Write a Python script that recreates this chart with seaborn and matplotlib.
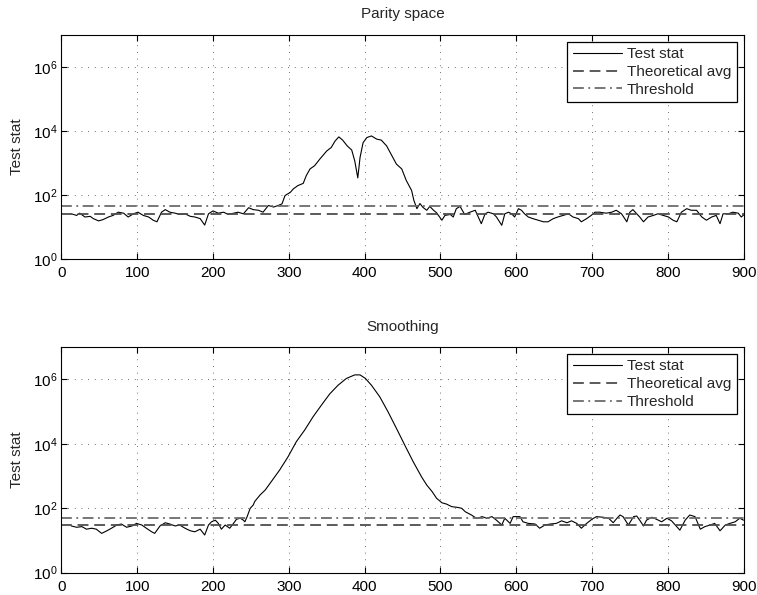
import numpy as np
import pandas as pd
import matplotlib
matplotlib.use("Agg")
import matplotlib.pyplot as plt
import seaborn as sns
from matplotlib.ticker import FixedLocator, LogFormatterSciNotation, NullLocator

# ---------------- data ----------------
titles = ["Parity space", "Smoothing"]
legend_labels = ["Test stat", "Theoretical avg", "Threshold"]
x_ticks = [0, 100, 200, 300, 400, 500, 600, 700, 800, 900]
y_ticks = [1e0, 1e2, 1e4, 1e6]

parity_x = [13, 20, 24, 31, 38, 42, 49, 55, 62, 68,
            75, 82, 88, 95, 101, 108, 115, 121, 126, 132,
            137, 143, 150, 156, 163, 170, 176, 183, 189, 194,
            200, 207, 214, 220, 227, 233, 240, 247, 253, 260,
            266, 273, 280, 286, 291, 295, 302, 306, 312, 319,
            323, 328, 334, 341, 350, 356, 361, 366, 371, 377,
            383, 387, 391, 394, 398, 403, 409, 416, 422, 429,
            436, 442, 449, 455, 462, 465, 469, 473, 477, 482,
            486, 491, 495, 502, 506, 513, 517, 521, 526, 532,
            539, 546, 550, 554, 559, 563, 570, 574, 581, 585,
            590, 594, 598, 603, 607, 611, 616, 622, 629, 636,
            642, 649, 655, 662, 669, 675, 682, 686, 693, 699,
            704, 710, 719, 726, 732, 739, 746, 750, 754, 759,
            763, 768, 774, 781, 787, 794, 801, 807, 812, 818,
            825, 831, 838, 845, 851, 858, 864, 869, 873, 880,
            886, 893, 897, 900]
parity_stat = [26.3, 23.4, 27.5, 20.9, 21.9, 18.6, 15.8, 17.4, 20.9, 23.4,
               29.5, 27.5, 20.9, 26.3, 29.5, 23.4, 20.9, 16.6, 14.8, 29.5,
               35.5, 29.5, 27.5, 25.1, 26.3, 21.9, 20.9, 18.6, 11.7, 26.3,
               32.4, 27.5, 29.5, 25.1, 27.5, 29.5, 26.3, 40.7, 35.5, 33.9,
               29.5, 47.9, 42.7, 47.9, 53.7, 97.7, 123, 158, 200, 234,
               407, 661, 832, 1349, 2399, 3090, 4898, 6607, 5248, 3467,
               2570, 1175, 347, 1514, 4365, 6310, 7079, 5623, 5248, 3467,
               1698, 933, 661, 288, 141, 69.2, 38, 55, 41.7, 33.9,
               44.7, 33.9, 28.2, 16.6, 23.4, 25.1, 20.9, 38, 44.7, 25.1,
               29.5, 33.9, 20.9, 12.9, 26.3, 29.5, 26.3, 20.9, 11.5, 26.3,
               29.5, 26.3, 20.9, 38, 33.9, 26.3, 20.9, 18.6, 16.6, 14.8,
               14.8, 18.6, 20.9, 23.4, 26.3, 20.9, 18.6, 14.8, 18.6, 23.4,
               29.5, 29.5, 27.5, 29.5, 33.9, 26.3, 14.8, 29.5, 35.5, 26.3,
               20.9, 14.8, 20.9, 23.4, 26.3, 23.4, 20.9, 16.6, 14.8, 29.5,
               38, 33.9, 33.9, 20.9, 16.6, 20.9, 23.4, 12.9, 26.3, 26.3,
               29.5, 27.5, 20.9, 24]
parity_avg = 26
parity_threshold = 46

smooth_x = [13, 20, 27, 33, 40, 46, 53, 60, 66, 73,
            79, 86, 93, 99, 106, 112, 119, 123, 130, 137,
            143, 150, 156, 163, 170, 176, 183, 189, 194, 198,
            203, 207, 211, 216, 222, 227, 231, 236, 240, 242,
            245, 249, 253, 255, 262, 269, 277, 288, 299, 310,
            321, 332, 343, 354, 365, 376, 387, 394, 401, 409,
            420, 431, 442, 453, 464, 475, 482, 489, 495, 502,
            508, 515, 522, 528, 533, 537, 541, 548, 555, 561,
            568, 574, 581, 585, 592, 596, 605, 609, 616, 625,
            631, 638, 645, 653, 660, 667, 673, 680, 686, 693,
            700, 706, 715, 722, 728, 733, 737, 741, 748, 755,
            759, 763, 768, 772, 779, 785, 792, 799, 805, 810,
            816, 823, 829, 836, 843, 849, 856, 862, 869, 876,
            882, 889, 895, 900]
smooth_stat = [28.2, 25.7, 26.9, 22.4, 24, 22.4, 16.6, 20, 24, 30.2,
               32.4, 25.7, 28.2, 33.9, 30.2, 24, 18.6, 16.6, 28.2, 35.5,
               32.4, 28.2, 30.2, 24, 20, 18.6, 22.4, 14.8, 30.2, 38,
               42.7, 33.9, 22.4, 30.2, 24, 33.9, 45.7, 49, 42.7, 38,
               55, 99.5, 126, 162, 257, 372, 676, 1549, 3981, 11750,
               26900, 69200, 158500, 354800, 660700, 1071500, 1380000, 1380000, 1071500, 660700,
               288400, 97700, 30200, 9120, 2818, 955, 525, 331, 204, 148,
               135, 112, 107, 100, 77.6, 69.2, 61.7, 47.9, 55, 49,
               55, 42.7, 30.2, 49, 33.9, 55, 55, 38, 33.9, 32.4,
               24, 30.2, 32.4, 33.9, 40.7, 35.5, 40.7, 33.9, 24, 33.9,
               45.7, 55, 52.5, 49, 35.5, 49, 61.7, 55, 30.2, 55,
               57.5, 42.7, 28.2, 42.7, 52.5, 45.7, 38, 49, 40.7, 30.2,
               20.9, 42.7, 61.7, 55, 22.4, 26.9, 30.2, 33.9, 20, 30.2,
               33.9, 38, 49, 42.7]
smooth_avg = 30
smooth_threshold = 51

# ---------------- styling ----------------
sns.set_style("ticks")
plt.rcParams["font.family"] = ["Liberation Sans", "DejaVu Sans"]
plt.rcParams["mathtext.fontset"] = "custom"
plt.rcParams["mathtext.rm"] = "Liberation Sans"
plt.rcParams["mathtext.it"] = "Liberation Sans:italic"
plt.rcParams["mathtext.default"] = "regular"
plt.rcParams["font.size"] = 11

fig = plt.figure(figsize=(7.57, 5.95), dpi=100)
ax_top = fig.add_axes([0.0812, 0.5642, 0.901, 0.377])
ax_bot = fig.add_axes([0.0812, 0.0375, 0.901, 0.379])

panels = [
    (ax_top, titles[0], parity_x, parity_stat, parity_avg, parity_threshold),
    (ax_bot, titles[1], smooth_x, smooth_stat, smooth_avg, smooth_threshold),
]

for ax, title, xs, ys, avg, thr in panels:
    df = pd.DataFrame({"t": xs, "stat": ys})
    sns.lineplot(data=df, x="t", y="stat", ax=ax, color="black", lw=0.8,
                 estimator=None, sort=False, label=legend_labels[0])
    ax.axhline(avg, color="0.3", lw=1.3, dashes=(6, 3.2), label=legend_labels[1])
    ax.axhline(thr, color="0.42", lw=1.3, dashes=(6, 2.5, 1, 2.5), label=legend_labels[2])
    ax.set_yscale("log")
    ax.set_xlim(0, 900)
    ax.set_ylim(1, 1e7)
    ax.xaxis.set_major_locator(FixedLocator(x_ticks))
    ax.yaxis.set_major_locator(FixedLocator(y_ticks))
    ax.yaxis.set_major_formatter(LogFormatterSciNotation())
    ax.yaxis.set_minor_locator(NullLocator())
    ax.xaxis.set_minor_locator(NullLocator())
    ax.grid(True, which="major", color="0.25", lw=0.6, linestyle=(0, (1, 7)))
    ax.tick_params(direction="in", length=4, width=0.8, top=True, right=True,
                   labelsize=11, colors="black")
    ax.tick_params(axis="x", pad=5)
    ax.tick_params(axis="y", pad=3)
    for sp in ax.spines.values():
        sp.set_visible(True)
        sp.set_color("black")
        sp.set_linewidth(0.8)
    ax.set_title(title, fontsize=11, pad=12)
    ax.set_xlabel("")
    ax.set_ylabel("Test stat", fontsize=11, labelpad=6)
    leg = ax.legend(loc="upper right", fontsize=11, frameon=True, fancybox=False,
                    framealpha=1, edgecolor="black", handlelength=3.2,
                    handletextpad=0.35, labelspacing=0.25, borderpad=0.35,
                    borderaxespad=0.45)
    leg.get_frame().set_linewidth(0.9)

fig.savefig("out.png", dpi=100)
